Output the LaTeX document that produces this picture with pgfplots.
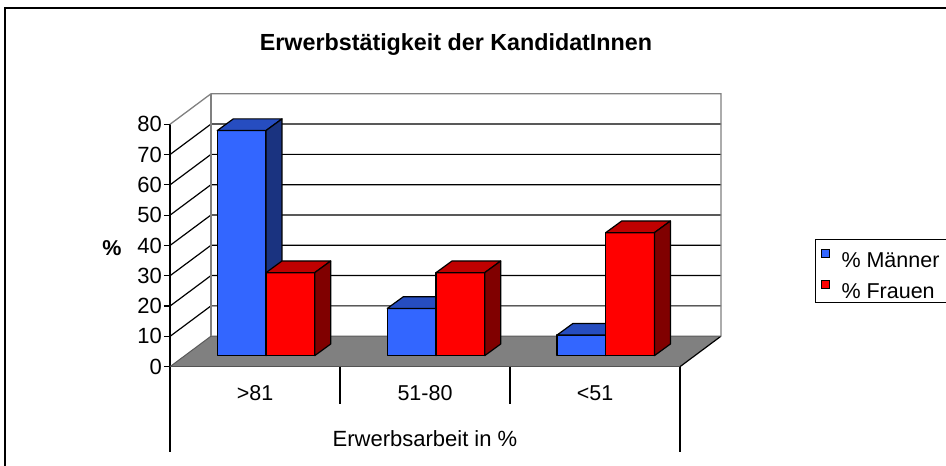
\documentclass[border=0pt]{standalone}
\usepackage{fontspec}
\setmainfont{Liberation Sans}
\usepackage{pgfplots}
\usepackage{pgfplotstable}
\pgfplotsset{compat=1.18}
\definecolor{bluefront}{RGB}{51,102,255}
\definecolor{bluetop}{RGB}{38,77,192}
\definecolor{blueside}{RGB}{26,51,128}
\definecolor{redfront}{RGB}{255,0,0}
\definecolor{redtop}{RGB}{192,0,0}
\definecolor{redside}{RGB}{128,0,0}
\definecolor{floorgray}{RGB}{128,128,128}
\definecolor{framegray}{RGB}{128,128,128}

% x0 = left edge of the pair (layout), m = % Maenner, f = % Frauen
\pgfplotstableread{
x0     m     f
217.3  74.3  27.4
387.3  15.6  27.4
557.0  6.8   40.6
}\datatable

\def\bw{48.7}\def\ddx{16}\def\ddy{3.85}\def\yz{3.63}
\tikzset{barface/.style={draw=black, line width=1.2pt, line join=round}}

\newcommand\drawbar[3]{%
  \pgfmathsetmacro\xa{#1}%
  \pgfmathsetmacro\xb{#1+\bw}%
  \pgfmathsetmacro\xc{#1+\bw+\ddx}%
  \pgfmathsetmacro\xd{#1+\ddx}%
  \pgfmathsetmacro\ya{\yz}%
  \pgfmathsetmacro\yb{\yz+#2}%
  \pgfmathsetmacro\yc{\yz+#2+\ddy}%
  \pgfmathsetmacro\yd{\yz+\ddy}%
  \edef\temp{%
   \noexpand\addplot[forget plot, barface, fill=#3front] coordinates {(\xa,\ya) (\xb,\ya) (\xb,\yb) (\xa,\yb)} -- cycle;
   \noexpand\addplot[forget plot, barface, fill=#3top] coordinates {(\xa,\yb) (\xb,\yb) (\xc,\yc) (\xd,\yc)} -- cycle;
   \noexpand\addplot[forget plot, barface, fill=#3side] coordinates {(\xb,\ya) (\xc,\yd) (\xc,\yc) (\xb,\yb)} -- cycle;
  }\temp}

\begin{document}
\begin{tikzpicture}
\begin{axis}[
  x=1pt, y=3.03pt,
  xmin=170, xmax=680, ymin=0, ymax=80,
  clip=false,
  axis lines*=left,
  axis line style={black, line width=1.2pt},
  xtick=\empty,
  ytick={0,10,...,80},
  tick align=outside,
  major tick length=6pt,
  tick style={black, line width=1.2pt},
  /pgf/number format/assume math mode=true,
  yticklabel style={font=\fontsize{22}{24}\selectfont, inner sep=2pt},
  legend image code/.code={\draw[#1] (0pt,-2pt) rectangle (8pt,6pt);},
  legend style={at={(axis cs:815,42.15)}, anchor=north west, draw=black, line width=1.2pt,
    font=\fontsize{21.5}{24}\selectfont, inner xsep=5pt, inner ysep=2pt,
    row sep=3.3pt, column sep=10pt,
    nodes={inner sep=2pt, text height=23.7pt, text depth=0pt}},
  legend cell align=left,
]
% floor
\draw[fill=floorgray, draw=none] (axis cs:170,0) -- (axis cs:680,0) -- (axis cs:721,10.07) -- (axis cs:211,10.07) -- cycle;
\draw[black, line width=1.2pt] (axis cs:680,0) -- (axis cs:721,10.07);
\draw[framegray!70!black, line width=1pt] (axis cs:170,0) -- (axis cs:211,10.07) -- (axis cs:721,10.07);
% gridlines
\draw[black, line width=1.2pt] (axis cs:170,10) -- (axis cs:211,20.07) -- (axis cs:721,20.07);
\draw[black, line width=1.2pt] (axis cs:170,20) -- (axis cs:211,30.07) -- (axis cs:721,30.07);
\draw[black, line width=1.2pt] (axis cs:170,30) -- (axis cs:211,40.07) -- (axis cs:721,40.07);
\draw[black, line width=1.2pt] (axis cs:170,40) -- (axis cs:211,50.07) -- (axis cs:721,50.07);
\draw[black, line width=1.2pt] (axis cs:170,50) -- (axis cs:211,60.07) -- (axis cs:721,60.07);
\draw[black, line width=1.2pt] (axis cs:170,60) -- (axis cs:211,70.07) -- (axis cs:721,70.07);
\draw[black, line width=1.2pt] (axis cs:170,70) -- (axis cs:211,80.07) -- (axis cs:721,80.07);
% wall frame
\draw[framegray, line width=1.3pt] (axis cs:170,80) -- (axis cs:211,90.07) -- (axis cs:721,90.07) -- (axis cs:721,10.07);
\draw[framegray, line width=1.3pt] (axis cs:211,10.07) -- (axis cs:211,90.07);
% bars
\pgfplotsforeachungrouped \i in {0,1,2}{%
  \pgfplotstablegetelem{\i}{x0}\of\datatable \let\xz\pgfplotsretval
  \pgfplotstablegetelem{\i}{m}\of\datatable \let\vm\pgfplotsretval
  \pgfplotstablegetelem{\i}{f}\of\datatable \let\vf\pgfplotsretval
  \drawbar{\xz}{\vm}{blue}%
  \drawbar{\xz+\bw}{\vf}{red}%
}
% category separators
\draw[black, line width=1.2pt] (axis cs:170,0) -- (axis cs:170,-28.2);
\draw[black, line width=1.2pt] (axis cs:680,0) -- (axis cs:680,-28.2);
\draw[black, line width=1.2pt] (axis cs:340,0) -- (axis cs:340,-12.3);
\draw[black, line width=1.2pt] (axis cs:510,0) -- (axis cs:510,-12.3);
\node[anchor=base, font=\fontsize{21.5}{24}\selectfont] at (axis cs:255,-11.25) {>81};
\node[anchor=base, font=\fontsize{21.5}{24}\selectfont] at (axis cs:425,-11.25) {51-80};
\node[anchor=base, font=\fontsize{21.5}{24}\selectfont] at (axis cs:595,-11.25) {<51};
\node[anchor=base, font=\fontsize{22}{24}\selectfont] at (axis cs:425,-26.3) {Erwerbsarbeit in \%};
\node[font=\bfseries\fontsize{21.5}{24}\selectfont] at (axis cs:112,39.2) {\%};
\node[anchor=base, font=\bfseries\fontsize{23.3}{26}\selectfont] at (axis cs:456,104.2) {Erwerbstätigkeit der KandidatInnen};
% legend
\addlegendimage{fill=bluefront, draw=black, line width=0.9pt}
\addlegendentry{\% Männer}
\addlegendimage{fill=redfront, draw=black, line width=0.9pt}
\addlegendentry{\% Frauen}
% outer frame
\draw[black, line width=2pt] (axis cs:5,-40) -- (axis cs:5,118.38) -- (axis cs:960,118.38);
\coordinate (TL) at (axis cs:0,121.02);
\coordinate (BR) at (axis cs:946,-32.77);
\end{axis}
\pgfresetboundingbox
\path[use as bounding box] (TL) rectangle (BR);
\end{tikzpicture}
\end{document}
